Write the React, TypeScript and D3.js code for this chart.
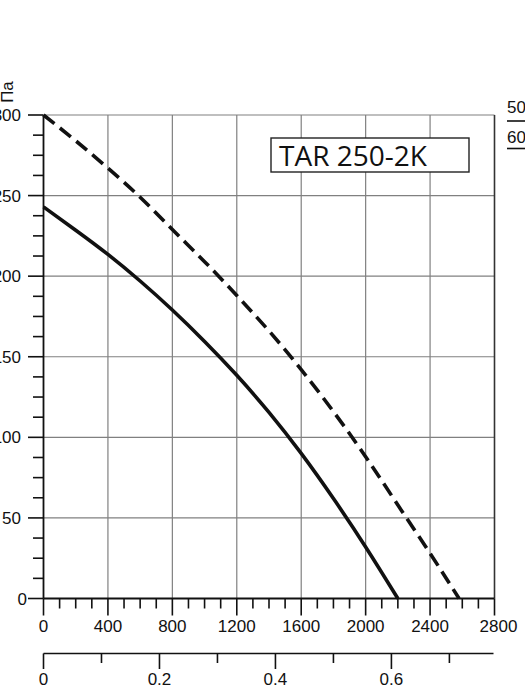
import * as d3 from 'd3';

// fan curve TAR 250-2K, pressure (Pa) vs airflow (m3/h)
const flow50 = [0, 200, 400, 600, 800, 1000, 1200, 1400, 1600, 1800, 2000, 2200];
const pres50 = [243, 228.5, 213.5, 197, 179, 159.5, 138.5, 115.5, 90, 62, 32, 0];
const flow60 = [0, 200, 400, 600, 800, 1000, 1200, 1400, 1600, 1800, 2000, 2200, 2400, 2580];
const pres60 = [300, 284, 267, 249, 229, 209, 188, 166, 142, 116, 88, 58, 28, 0];

const flowTicks = d3.range(0, 2801, 100);
const flowLabels = [0, 400, 800, 1200, 1600, 2000, 2400, 2800];
const presTicks = d3.range(0, 300.1, 12.5);
const presLabels = [0, 50, 100, 150, 200, 250, 300];
const m3sTicks = d3.range(0, 0.75, 0.1);
const m3sLabels = ['0', '0.2', '0.4', '0.6'];
const legend = ['50', '60'];
const title = 'TAR 250-2K';

const FONT = '"Liberation Sans", Arial, sans-serif';

export default function App() {
  const x = d3.scaleLinear().domain([0, 2800]).range([43.5, 494.5]);
  const y = d3.scaleLinear().domain([0, 300]).range([598.5, 115]);
  const q = d3.scaleLinear().domain([0, 2800 / 3600]).range([43.5, 494.5]);

  const line = d3.line<[number, number]>()
    .x(d => x(d[0]))
    .y(d => y(d[1]))
    .curve(d3.curveNatural);

  const d50 = line(flow50.map((f, i) => [f, pres50[i]] as [number, number])) || '';
  const d60 = line(flow60.map((f, i) => [f, pres60[i]] as [number, number])) || '';

  const GRID = '#808080';

  return (
    <svg
      width={525}
      height={700}
      style={{ position: 'absolute', left: 0, top: 0, background: '#fff' }}
    >
      {/* grid */}
      {flowLabels.slice(1, -1).map(v => (
        <line key={'gx' + v} x1={x(v)} x2={x(v)} y1={y(300)} y2={y(0)} stroke={GRID} strokeWidth={1.2} />
      ))}
      {presLabels.slice(1).map(v => (
        <line key={'gy' + v} x1={x(0)} x2={x(2800)} y1={y(v)} y2={y(v)} stroke={GRID} strokeWidth={1.2} />
      ))}
      <line x1={x(2800)} x2={x(2800)} y1={y(300)} y2={y(0)} stroke="#333" strokeWidth={1.6} />

      {/* left axis */}
      <line x1={x(0)} x2={x(0)} y1={y(300)} y2={y(0)} stroke="#111" strokeWidth={1.8} />
      {presTicks.map(v => {
        const major = v % 50 === 0;
        return (
          <line key={'ty' + v} x1={major ? 28 : 33} x2={x(0)} y1={y(v)} y2={y(v)} stroke="#111" strokeWidth={1.6} />
        );
      })}
      {presLabels.map(v => (
        <text key={'ly' + v} x={v === 0 ? 27 : 21} y={y(v) + 6} textAnchor="end"
          fontFamily={FONT} fontSize={17} fill="#111">{v}</text>
      ))}
      <text transform="translate(13,92) rotate(-90)" textAnchor="middle"
        fontFamily={FONT} fontSize={17} fill="#111">Па</text>

      {/* bottom axis */}
      <line x1={x(0)} x2={x(2800)} y1={y(0)} y2={y(0)} stroke="#111" strokeWidth={1.8} />
      {flowTicks.map(v => (
        <line key={'tx' + v} x1={x(v)} x2={x(v)} y1={y(0)} y2={y(0) + (v % 400 === 0 ? 17 : 10)}
          stroke="#111" strokeWidth={1.6} />
      ))}
      {flowLabels.map(v => (
        <text key={'lx' + v} x={x(v) + (v === 2800 ? 4 : 0)} y={632} textAnchor="middle"
          fontFamily={FONT} fontSize={17} fill="#111">{v}</text>
      ))}

      {/* second flow axis, m3/s */}
      <line x1={q(0)} x2={x(2800) - 1} y1={653.5} y2={653.5} stroke="#111" strokeWidth={1.6} />
      {m3sTicks.map((v, i) => (
        <line key={'tq' + i} x1={q(v)} x2={q(v)} y1={653.5} y2={i % 2 === 0 ? 669 : 663}
          stroke="#111" strokeWidth={1.6} />
      ))}
      {m3sLabels.map(s => (
        <text key={'lq' + s} x={q(+s)} y={684.5} textAnchor="middle"
          fontFamily={FONT} fontSize={17} fill="#111">{s}</text>
      ))}

      {/* curves */}
      <path d={d50} fill="none" stroke="#111" strokeWidth={3.6} />
      <path d={d60} fill="none" stroke="#111" strokeWidth={3.6} strokeDasharray="14,7" />

      {/* title box */}
      <rect x={271} y={138} width={198} height={34} fill="#fff" stroke="#222" strokeWidth={1.4} />
      <text x={279} y={166} fontFamily='"Open Sans", "Noto Sans", sans-serif' fontSize={28} fill="#111">{title}</text>

      {/* legend (cut off at right edge) */}
      {legend.map((s, i) => (
        <g key={'lg' + s}>
          <text x={507} y={113 + i * 30} fontFamily={FONT} fontSize={17} fill="#111">{s}</text>
          <line x1={507} x2={530} y1={121 + i * 27.5} y2={121 + i * 27.5} stroke="#111" strokeWidth={1.6} />
        </g>
      ))}
    </svg>
  );
}
